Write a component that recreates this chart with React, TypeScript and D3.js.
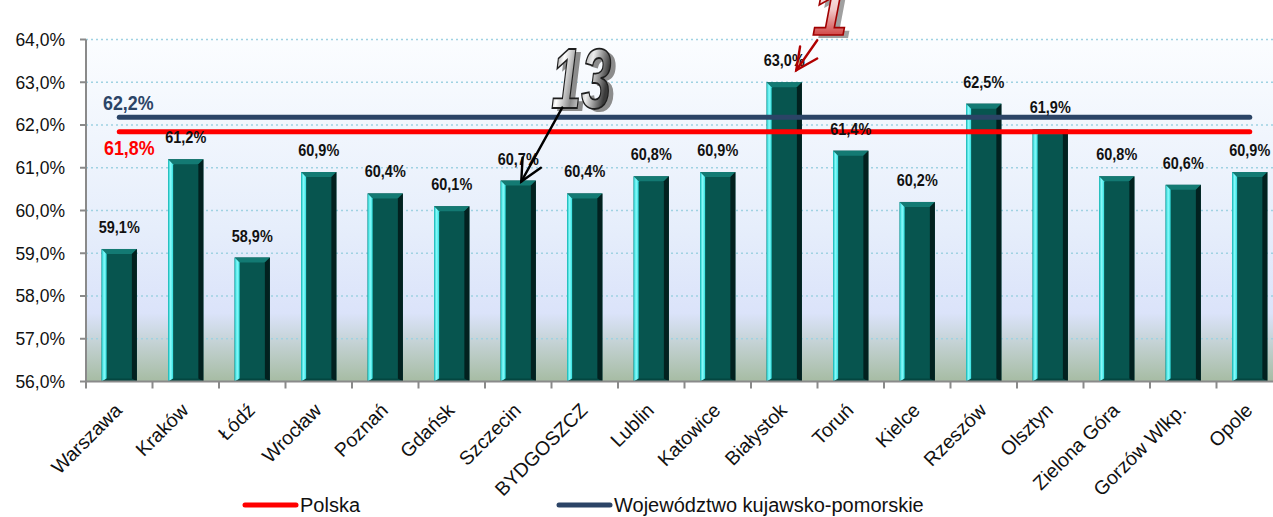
import React from "react";
import * as d3 from "d3";

// data
const cities = [
  "Warszawa", "Kraków", "Łódź", "Wrocław", "Poznań", "Gdańsk", "Szczecin",
  "BYDGOSZCZ", "Lublin", "Katowice", "Białystok", "Toruń", "Kielce",
  "Rzeszów", "Olsztyn", "Zielona Góra", "Gorzów Wlkp.", "Opole",
];
const rates = [
  59.1, 61.2, 58.9, 60.9, 60.4, 60.1, 60.7, 60.4, 60.8, 60.9, 63.0, 61.4,
  60.2, 62.5, 61.9, 60.8, 60.6, 60.9,
];
const polska = 61.84;
const wojewodztwo = 62.18;
const yTicks = [56, 57, 58, 59, 60, 61, 62, 63, 64];

const W = 1273;
const H = 517;
const left = 86;
const top = 39.5;
const bottom = 381.5;
const bandW = 66.5;

const fmt = (v: number) => v.toFixed(1).replace(".", ",") + "%";

export default function App() {
  const x = d3
    .scaleBand<string>()
    .domain(cities)
    .range([left, left + bandW * cities.length])
    .paddingInner(0.47)
    .paddingOuter(0.235);
  const y = d3.scaleLinear().domain([56, 64]).range([bottom, top]);
  const cx = (c: string) => (x(c) as number) + x.bandwidth() / 2;
  const bw = x.bandwidth();
  const b = 5;

  const line = d3
    .line<string>()
    .x((c) => cx(c));

  const sans = "'Liberation Sans', Arial, sans-serif";

  // arrow helper
  const arrow = (x1: number, y1: number, x2: number, y2: number, color: string, key: string) => {
    const ang = Math.atan2(y2 - y1, x2 - x1);
    const len = 24;
    const spread = 0.45;
    const p1 = [x2 - len * Math.cos(ang - spread), y2 - len * Math.sin(ang - spread)];
    const p2 = [x2 - len * Math.cos(ang + spread), y2 - len * Math.sin(ang + spread)];
    return (
      <g key={key} stroke={color} strokeWidth={2.4} fill="none" strokeLinecap="round">
        <line x1={x1} y1={y1} x2={x2} y2={y2} />
        <polyline points={`${p1[0]},${p1[1]} ${x2},${y2} ${p2[0]},${p2[1]}`} />
      </g>
    );
  };

  // condensed bold label (no narrow font installed, so squeeze it)
  const narrowLabel = (tx: number, ty: number, s: string, size: number, color: string, key: string) => (
    <text
      key={key}
      transform={`translate(${tx},${ty}) scale(0.85,1)`}
      textAnchor="middle"
      fontFamily={sans}
      fontWeight="bold"
      fontSize={size}
      fill={color}
    >
      {s}
    </text>
  );

  const szX = cx("Szczecin");
  const szY = y(60.7);
  const biX = cx("Białystok");
  const biY = y(63.0);

  return (
    <svg width={W} height={H} style={{ position: "absolute", left: 0, top: 0, background: "#fff" }}>
      <defs>
        <linearGradient id="plotBg" x1="0" y1="0" x2="0" y2="1">
          <stop offset="0" stopColor="#fbfdff" />
          <stop offset="0.55" stopColor="#e6eefb" />
          <stop offset="0.8" stopColor="#dbe3fa" />
          <stop offset="1" stopColor="#a6bca3" />
        </linearGradient>
        <linearGradient id="barLeft" x1="0" y1="0" x2="1" y2="0">
          <stop offset="0" stopColor="#19c4c4" />
          <stop offset="0.5" stopColor="#8afcfc" />
          <stop offset="1" stopColor="#2fdede" />
        </linearGradient>
        <linearGradient id="gray13" x1="0" y1="0" x2="1" y2="0.3">
          <stop offset="0" stopColor="#2e2e2e" />
          <stop offset="0.28" stopColor="#ffffff" />
          <stop offset="0.5" stopColor="#8a8a8a" />
          <stop offset="0.72" stopColor="#eeeeee" />
          <stop offset="1" stopColor="#3a3a3a" />
        </linearGradient>
        <linearGradient id="red1" x1="0" y1="0" x2="0" y2="1">
          <stop offset="0" stopColor="#ffffff" />
          <stop offset="0.45" stopColor="#f2c8c8" />
          <stop offset="1" stopColor="#c00000" />
        </linearGradient>
      </defs>

      {/* plot area */}
      <rect x={left} y={top} width={W - left} height={bottom - top} fill="url(#plotBg)" />

      {/* gridlines */}
      {yTicks.slice(1).map((t) => (
        <line key={t} x1={left} x2={W} y1={y(t)} y2={y(t)} stroke="#9fd2e2" strokeWidth={1.5} strokeDasharray="2,3" />
      ))}

      {/* bars */}
      {cities.map((c, i) => {
        const x0 = x(c) as number;
        const x1 = x0 + bw;
        const y0 = y(rates[i]);
        const yb = bottom;
        return (
          <g key={c}>
            <rect x={x0} y={y0} width={bw} height={yb - y0} fill="#07554f" />
            <polygon points={`${x0},${y0} ${x1},${y0} ${x1 - b},${y0 + b} ${x0 + b},${y0 + b}`} fill="#137a73" />
            <polygon points={`${x0},${y0} ${x0 + b},${y0 + b} ${x0 + b},${yb - 2} ${x0},${yb}`} fill="url(#barLeft)" />
            <polygon points={`${x1},${y0} ${x1 - b},${y0 + b} ${x1 - b},${yb - 2} ${x1},${yb}`} fill="#02211f" />
            <polygon points={`${x0},${yb} ${x0 + b},${yb - 3} ${x1 - b},${yb - 3} ${x1},${yb}`} fill="#044640" />
          </g>
        );
      })}

      {/* axes */}
      <line x1={left} x2={left} y1={top} y2={bottom} stroke="#8a8a8a" strokeWidth={2} />
      <line x1={left} x2={W} y1={bottom} y2={bottom} stroke="#8a8a8a" strokeWidth={2} />
      {yTicks.map((t) => (
        <g key={t}>
          <line x1={left - 6} x2={left} y1={y(t)} y2={y(t)} stroke="#8a8a8a" strokeWidth={2} />
          <text x={65} y={y(t)} dy="0.36em" textAnchor="end" fontFamily={sans} fontSize={17.5} fill="#111">
            {fmt(t)}
          </text>
        </g>
      ))}
      {cities.map((c, i) => (
        <line key={c} x1={left + i * bandW} x2={left + i * bandW} y1={bottom} y2={bottom + 7} stroke="#8a8a8a" strokeWidth={2} />
      ))}

      {/* category labels */}
      {cities.map((c) => (
        <text
          key={c}
          transform={`translate(${cx(c) + 4},${bottom + 30}) rotate(-45)`}
          textAnchor="end"
          fontFamily={sans}
          fontSize={19.5}
          fill="#111"
        >
          {c}
        </text>
      ))}

      {/* reference lines */}
      <path
        d={line.y(() => y(wojewodztwo))(cities) as string}
        stroke="#2b4466"
        strokeWidth={5}
        strokeLinecap="round"
        fill="none"
      />
      <path
        d={line.y(() => y(polska))(cities) as string}
        stroke="#ff0000"
        strokeWidth={5}
        strokeLinecap="round"
        fill="none"
      />
      {narrowLabel(cx(cities[0]) + 9, y(wojewodztwo) - 7, fmt(wojewodztwo), 21, "#2b4466", "lw")}
      {narrowLabel(cx(cities[0]) + 10, y(polska) + 23, fmt(polska), 21, "#ff0000", "lp")}

      {/* value labels */}
      {cities.map((c, i) => narrowLabel(cx(c), y(rates[i]) - 16, fmt(rates[i]), 17, "#111", c))}

      {/* annotations */}
      <g fontFamily={sans} fontWeight="bold" fontStyle="italic">
        <text x={szX + 38} y={szY - 70} fontSize={86} textLength={60} lengthAdjust="spacingAndGlyphs" fill="#8c8c8c">13</text>
        <text x={szX + 33} y={szY - 73} fontSize={86} textLength={60} lengthAdjust="spacingAndGlyphs" fill="url(#gray13)" stroke="#1e1e1e" strokeWidth={1.8}>13</text>
        <text x={biX + 33} y={biY - 44} fontSize={64} fill="#a0a0a0">1</text>
        <text x={biX + 28} y={biY - 47} fontSize={64} fill="url(#red1)" stroke="#a00000" strokeWidth={1.6}>1</text>
      </g>
      {arrow(szX + 44, szY - 73, szX + 3, szY + 1, "#000", "a13")}
      {arrow(biX + 33, biY - 42, biX + 12, biY - 12, "#b00000", "a1")}

      {/* legend */}
      <line x1={245} x2={296} y1={505} y2={505} stroke="#ff0000" strokeWidth={5} strokeLinecap="round" />
      <text x={300} y={512} fontFamily={sans} fontSize={20} fill="#111">Polska</text>
      <line x1={559} x2={610} y1={505} y2={505} stroke="#2b4466" strokeWidth={5} strokeLinecap="round" />
      <text x={614} y={512} fontFamily={sans} fontSize={20} fill="#111">Województwo kujawsko-pomorskie</text>
    </svg>
  );
}
